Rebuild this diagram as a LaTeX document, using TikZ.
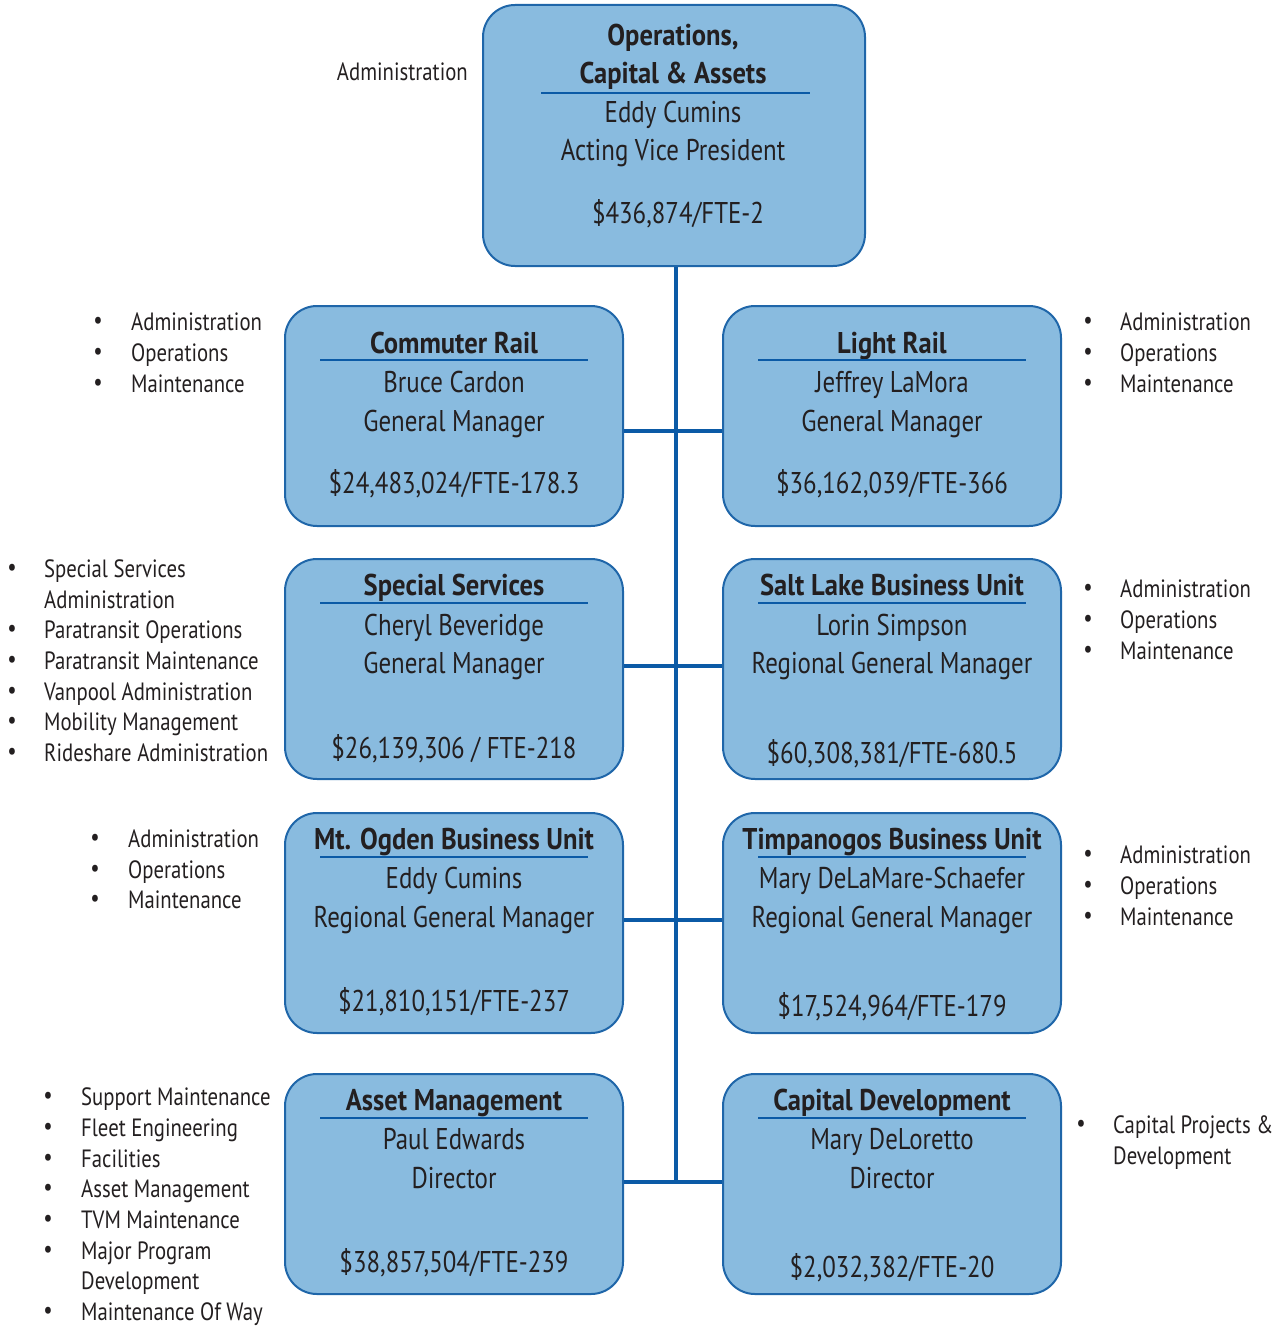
\documentclass[tikz,border=0pt]{standalone}
\usepackage{fontspec}
\setmainfont{PT Sans}[FakeStretch=0.83]
\newfontfamily\ttlfamily{PT Sans}[FakeStretch=0.885]
\newfontfamily\lstfamily{PT Sans}[FakeStretch=0.83]
\definecolor{boxfill}{HTML}{89BBDF}
\definecolor{boxline}{HTML}{1F66A9}
\definecolor{connblue}{HTML}{0B5AA6}
\definecolor{ink}{HTML}{231F20}
\newcommand{\boxfont}{\fontsize{30}{36}\selectfont}
\newcommand{\ttlfont}{\ttlfamily\bfseries\fontsize{30}{36}\selectfont}
\newcommand{\listfont}{\lstfamily\fontsize{25}{30}\selectfont}
\begin{document}
\begin{tikzpicture}[x=1pt,y=-1pt,
 box/.style={draw=boxline, line width=2pt, fill=boxfill, rounded corners=32pt, minimum width=338pt, minimum height=220pt, inner sep=0pt},
 txt/.style={inner sep=0pt, text height=0.72em, text depth=0pt, text=ink, font=\boxfont, yshift=-7pt},
 ttl/.style={inner sep=0pt, text height=0.72em, text depth=0pt, text=ink, font=\ttlfont, yshift=-7pt},
 lst/.style={inner sep=0pt, text height=0.72em, text depth=0pt, text=ink, anchor=west, font=\listfont, yshift=-5pt},
 bul/.style={inner sep=0pt, text=ink, font=\listfont, yshift=-1pt},
 conn/.style={draw=connblue, line width=4pt},
 titlerule/.style={draw=connblue, line width=1.3pt}]
\useasboundingbox (0,0) rectangle (1277,1327);

% ---------- boxes ----------
\node[box, minimum width=382pt, minimum height=261pt] (top) at (674,135.5) {};
\node[box] (cr) at (454,416) {};
\node[box] (lr) at (892,416) {};
\node[box] (ss) at (454,669) {};
\node[box] (sl) at (892,669) {};
\node[box] (mo) at (454,923) {};
\node[box] (tp) at (892,923) {};
\node[box] (am) at (454,1184) {};
\node[box] (cd) at (892,1184) {};

% ---------- connectors ----------
\coordinate (j1) at (676,431);
\coordinate (j2) at (676,666);
\coordinate (j3) at (676,920);
\coordinate (j4) at (676,1182);
\draw[conn] (top.south -| j1) -- (j4);
\draw[conn] (cr.east |- j1) -- (lr.west |- j1);
\draw[conn] (ss.east |- j2) -- (sl.west |- j2);
\draw[conn] (mo.east |- j3) -- (tp.west |- j3);
\draw[conn] (am.east |- j4) -- (cd.west |- j4);

% ---------- top box text ----------
\node[ttl] (t0a) at (673,35) {Operations,};
\node[ttl] (t0b) at (673,73) {Capital \& Assets};
\draw[titlerule] (541,93) -- (810,93);
\node[txt] (t0c) at (673,112) {Eddy Cumins};
\node[txt] (t0d) at (673,150) {Acting Vice President};
\node[txt] (t0e) at (678,213) {\$436,874/FTE-2};
\node[lst, anchor=east] (t0l) at (468,72) {Administration};

% ---------- Commuter Rail ----------
\node[ttl] (t1a) at (454,343) {Commuter Rail};
\draw[titlerule] (320,360) -- (588,360);
\node[txt] (t1b) at (454,382) {Bruce Cardon};
\node[txt] (t1c) at (454,421) {General Manager};
\node[txt] (t1d) at (454,483) {\$24,483,024/FTE-178.3};
\foreach \y/\t [count=\i] in {322/Administration,353/Operations,384/Maintenance}{
  \node[bul] (b1\i) at (98,\y) {•};
  \node[lst] (l1\i) at (131,\y) {\t};
}

% ---------- Light Rail ----------
\node[ttl] (t2a) at (892,343) {Light Rail};
\draw[titlerule] (758,360) -- (1026,360);
\node[txt] (t2b) at (892,382) {Jeffrey LaMora};
\node[txt] (t2c) at (892,421) {General Manager};
\node[txt] (t2d) at (892,483) {\$36,162,039/FTE-366};
\foreach \y/\t [count=\i] in {322/Administration,353/Operations,384/Maintenance}{
  \node[bul] (b2\i) at (1088,\y) {•};
  \node[lst] (l2\i) at (1120,\y) {\t};
}

% ---------- Special Services ----------
\node[ttl] (t3a) at (454,585) {Special Services};
\draw[titlerule] (320,603) -- (588,603);
\node[txt] (t3b) at (454,625) {Cheryl Beveridge};
\node[txt] (t3c) at (454,663) {General Manager};
\node[txt] (t3d) at (454,748) {\$26,139,306 / FTE-218};
\foreach \y/\t [count=\i] in {569/Special Services,630/Paratransit Operations,661/Paratransit Maintenance,692/Vanpool Administration,722/Mobility Management,753/Rideshare Administration}{
  \node[bul] (b3\i) at (12,\y) {•};
  \node[lst] (l3\i) at (44,\y) {\t};
}
\node[lst] (l3x) at (44,600) {Administration};

% ---------- Salt Lake ----------
\node[ttl] (t4a) at (892,585) {Salt Lake Business Unit};
\draw[titlerule] (758,603) -- (1026,603);
\node[txt] (t4b) at (892,625) {Lorin Simpson};
\node[txt] (t4c) at (892,663) {Regional General Manager};
\node[txt] (t4d) at (892,753) {\$60,308,381/FTE-680.5};
\foreach \y/\t [count=\i] in {589/Administration,620/Operations,651/Maintenance}{
  \node[bul] (b4\i) at (1088,\y) {•};
  \node[lst] (l4\i) at (1120,\y) {\t};
}

% ---------- Mt. Ogden ----------
\node[ttl] (t5a) at (454,839) {Mt. Ogden Business Unit};
\draw[titlerule] (320,857) -- (588,857);
\node[txt] (t5b) at (454,878) {Eddy Cumins};
\node[txt] (t5c) at (454,917) {Regional General Manager};
\node[txt] (t5d) at (454,1001) {\$21,810,151/FTE-237};
\foreach \y/\t [count=\i] in {839/Administration,870/Operations,900/Maintenance}{
  \node[bul] (b5\i) at (95,\y) {•};
  \node[lst] (l5\i) at (128,\y) {\t};
}

% ---------- Timpanogos ----------
\node[ttl] (t6a) at (892,839) {Timpanogos Business Unit};
\draw[titlerule] (758,857) -- (1026,857);
\node[txt] (t6b) at (892,878) {Mary DeLaMare-Schaefer};
\node[txt] (t6c) at (892,917) {Regional General Manager};
\node[txt] (t6d) at (892,1006) {\$17,524,964/FTE-179};
\foreach \y/\t [count=\i] in {855/Administration,886/Operations,917/Maintenance}{
  \node[bul] (b6\i) at (1088,\y) {•};
  \node[lst] (l6\i) at (1120,\y) {\t};
}

% ---------- Asset Management ----------
\node[ttl] (t7a) at (454,1100) {Asset Management};
\draw[titlerule] (320,1118) -- (588,1118);
\node[txt] (t7b) at (454,1139) {Paul Edwards};
\node[txt] (t7c) at (454,1178) {Director};
\node[txt] (t7d) at (454,1262) {\$38,857,504/FTE-239};
\foreach \y/\t [count=\i] in {1097/Support Maintenance,1128/Fleet Engineering,1159/Facilities,1189/Asset Management,1220/TVM Maintenance,1251/Major Program,1312/Maintenance Of Way}{
  \node[bul] (b7\i) at (48,\y) {•};
  \node[lst] (l7\i) at (81,\y) {\t};
}
\node[lst] (l7x) at (81,1281) {Development};

% ---------- Capital Development ----------
\node[ttl] (t8a) at (892,1100) {Capital Development};
\draw[titlerule] (758,1118) -- (1026,1118);
\node[txt] (t8b) at (892,1139) {Mary DeLoretto};
\node[txt] (t8c) at (892,1178) {Director};
\node[txt] (t8d) at (892,1267) {\$2,032,382/FTE-20};
\node[bul] (b81) at (1081,1125) {•};
\node[lst] (l81) at (1113,1125) {Capital Projects \&};
\node[lst] (l8x) at (1113,1156) {Development};
\end{tikzpicture}
\end{document}
